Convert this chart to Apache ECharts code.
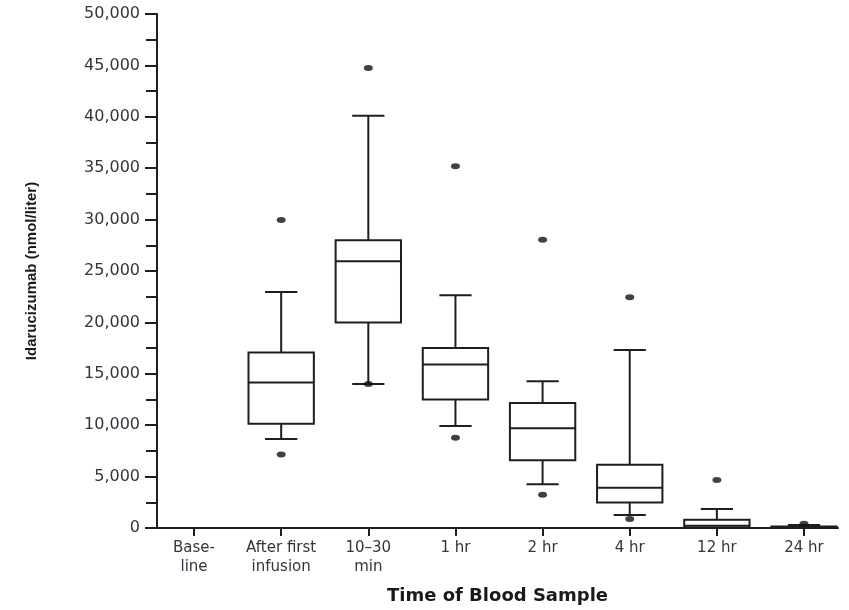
<!DOCTYPE html>
<html>
<head>
<meta charset="utf-8">
<title>Idarucizumab concentration by time of blood sample</title>
<script src="https://cdn.jsdelivr.net/npm/echarts@6/dist/echarts.min.js"></script>
<style>
  html, body { margin: 0; padding: 0; background: #fff; }
  #chart { width: 849px; height: 610px; }
</style>
</head>
<body>
<div id="chart"></div>
<script>
// Sampling times (category positions 0..7 on the x axis)
const categories = ['Base-\nline', 'After first\ninfusion', '10\u201330\nmin', '1 hr', '2 hr', '4 hr', '12 hr', '24 hr'];

// Box-plot statistics per sampling time (nmol/liter); baseline has no box
const whiskerLow  = [null,  8650, 14000,  9930, 4250, 1260,    0,   0];
const quartile1   = [null, 10130, 20000, 12490, 6600, 2490,   60,   0];
const medians     = [null, 14150, 25950, 15900, 9700, 3910,  220,  60];
const quartile3   = [null, 17080, 27980, 17500, 12170, 6150, 800, 150];
const whiskerHigh = [null, 22950, 40100, 22650, 14270, 17310, 1845, 300];

// Individual outlying measurements: [category index, value]
const outlierIndex  = [1, 1, 2, 2, 3, 3, 4, 4, 5, 5, 6, 7];
const outlierValues = [29950, 7150, 44750, 14000, 35200, 8770, 28050, 3230, 22450, 870, 4680, 420];

// Y-axis tick range
const yMin = 0, yMax = 50000, yStep = 5000;

const boxData = [];
categories.forEach(function (c, i) {
  if (medians[i] == null) return;
  boxData.push([i, whiskerLow[i], quartile1[i], medians[i], quartile3[i], whiskerHigh[i]]);
});
const outlierData = outlierIndex.map(function (x, k) { return [x, outlierValues[k]]; });

const ink = '#1e1e1e';
const textColor = '#34343f';

function renderBox(params, api) {
  const x = api.value(0);
  const lo = api.coord([x, api.value(1)]);
  const q1 = api.coord([x, api.value(2)]);
  const md = api.coord([x, api.value(3)]);
  const q3 = api.coord([x, api.value(4)]);
  const hi = api.coord([x, api.value(5)]);
  const boxW = api.size([0.75, 0])[0];
  const capW = api.size([0.37, 0])[0];
  const cx = md[0];
  const style = { stroke: ink, lineWidth: 2, fill: null };
  return {
    type: 'group',
    children: [
      { type: 'line', shape: { x1: cx, y1: q3[1], x2: cx, y2: hi[1] }, style: style },
      { type: 'line', shape: { x1: cx, y1: q1[1], x2: cx, y2: lo[1] }, style: style },
      { type: 'line', shape: { x1: cx - capW / 2, y1: hi[1], x2: cx + capW / 2, y2: hi[1] }, style: style },
      { type: 'line', shape: { x1: cx - capW / 2, y1: lo[1], x2: cx + capW / 2, y2: lo[1] }, style: style },
      { type: 'rect', shape: { x: cx - boxW / 2, y: q3[1], width: boxW, height: q1[1] - q3[1] },
        style: { stroke: ink, lineWidth: 2, fill: '#fff' } },
      { type: 'line', shape: { x1: cx - boxW / 2, y1: md[1], x2: cx + boxW / 2, y2: md[1] }, style: style }
    ]
  };
}

const chart = echarts.init(document.getElementById('chart'), null, { renderer: 'canvas' });
chart.setOption({
  animation: false,
  backgroundColor: '#fff',
  grid: { left: 157, right: 11, top: 14, bottom: 81, containLabel: false },
  xAxis: {
    type: 'value',
    min: -0.425,
    max: 7.39,
    splitLine: { show: false },
    axisLine: { show: true, onZero: false, lineStyle: { color: ink, width: 2 } },
    axisTick: { show: true, customValues: [0, 1, 2, 3, 4, 5, 6, 7], length: 8, lineStyle: { color: ink, width: 2 } },
    axisLabel: {
      customValues: [0, 1, 2, 3, 4, 5, 6, 7],
      formatter: function (v) { return categories[Math.round(v)]; },
      margin: 11,
      color: textColor,
      fontFamily: 'DejaVu Sans',
      fontSize: 15,
      lineHeight: 19
    },
    name: 'Time of Blood Sample',
    nameLocation: 'middle',
    nameGap: 59,
    nameTextStyle: { color: '#1a1a1a', fontFamily: 'DejaVu Sans', fontWeight: 'bold', fontSize: 18 }
  },
  yAxis: {
    type: 'value',
    min: yMin,
    max: yMax,
    interval: yStep,
    splitLine: { show: false },
    axisLine: { show: true, onZero: false, lineStyle: { color: ink, width: 2 } },
    axisTick: { show: true, length: 12, lineStyle: { color: ink, width: 2 } },
    minorTick: { show: true, splitNumber: 2, length: 11, lineStyle: { color: ink, width: 2 } },
    axisLabel: {
      margin: 17,
      color: textColor,
      fontFamily: 'DejaVu Sans',
      fontSize: 16,
      formatter: function (v) { return v.toLocaleString('en-US'); }
    },
    name: 'Idarucizumab (nmol/liter)',
    nameLocation: 'middle',
    nameRotate: 90,
    nameGap: 118,
    nameTextStyle: { color: '#1a1a1a', fontFamily: 'Liberation Sans', fontWeight: 'bold', fontSize: 15 }
  },
  series: [
    {
      type: 'custom',
      name: 'box',
      renderItem: renderBox,
      encode: { x: 0, y: [1, 2, 3, 4, 5] },
      data: boxData,
      z: 2
    },
    {
      type: 'scatter',
      name: 'outliers',
      symbol: 'circle',
      symbolSize: [9, 6],
      itemStyle: { color: '#111' },
      data: outlierData,
      z: 3
    }
  ]
});
</script>
</body>
</html>
